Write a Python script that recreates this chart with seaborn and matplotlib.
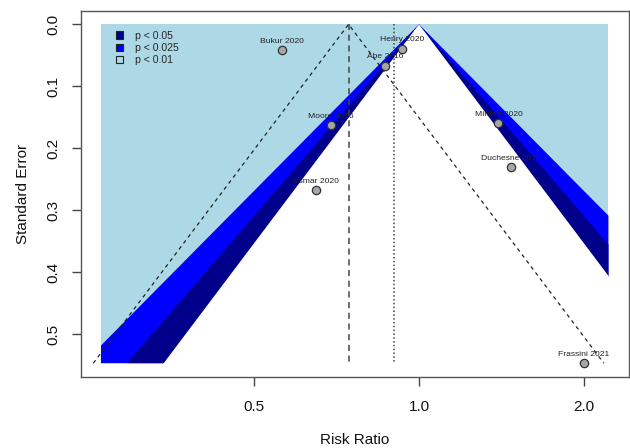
import numpy as np
import pandas as pd
import matplotlib
matplotlib.use("Agg")
import matplotlib.pyplot as plt
import seaborn as sns

# study data (risk ratio and standard error of log RR)
studies = ["Bukur 2020", "Henry 2020", "Abe 2016", "Moore 2016",
           "Mirdad 2020", "Duchesne 2019", "Asmar 2020", "Frassini 2021"]
rr = [0.562, 0.930, 0.868, 0.691, 1.396, 1.470, 0.650, 2.00]
se = [0.042, 0.040, 0.067, 0.163, 0.160, 0.231, 0.268, 0.547]

pooled_rr = 0.744      # dashed reference line / funnel centre
other_rr = 0.900       # dotted reference line
fill_range = [0.263, 2.216]   # x extent of shaded area
z_levels = [2.576, 2.241, 1.960]
level_colors = ["#0000FF", "#00008B", "white"]
legend_labels = ["p < 0.05", "p < 0.025", "p < 0.01"]
legend_colors = ["#00008B", "#0000FF", "#ADD8E6"]
x_ticks = [0.5, 1.0, 2.0]
x_tick_labels = ["0.5", "1.0", "2.0"]
y_ticks = [0.0, 0.1, 0.2, 0.3, 0.4, 0.5]

df = pd.DataFrame({"study": studies, "rr": rr, "se": se})

sns.set_style("white")
plt.rcParams["font.family"] = ["Liberation Sans", "DejaVu Sans"]

fig = plt.figure(figsize=(6.3, 4.48), dpi=100)
ax = fig.add_axes([0.128, 0.159, 0.870, 0.817])
ax.set_xscale("log")

se_max = max(se)
lo, hi = fill_range

# -------------------------------------------------
# contour shading
# -------------------------------------------------
ax.fill_between([lo, hi], 0, se_max, facecolor="#ADD8E6", edgecolor="none",
                lw=0, zorder=1)
for z, col in zip(z_levels, level_colors):
    if col == "white":
        # let the white inner region run past the shaded box (no seam)
        se_grid = np.linspace(0, se_max * 1.03, 400)
        right = hi * 1.2
    else:
        se_grid = np.linspace(0, se_max, 400)
        right = hi
    xl = np.clip(np.exp(-z * se_grid), lo, right)
    xr = np.clip(np.exp(z * se_grid), lo, right)
    ax.fill_betweenx(se_grid, xl, xr, facecolor=col, edgecolor="none",
                     lw=0, zorder=2)

# -------------------------------------------------
# funnel + reference lines
# -------------------------------------------------
c = np.log(pooled_rr)
ax.plot([np.exp(c - 1.96 * se_max), pooled_rr, np.exp(c + 1.96 * se_max)],
        [se_max, 0, se_max], color="#222222", lw=0.9, dashes=(3, 3), zorder=3)
ax.plot([pooled_rr, pooled_rr], [0, se_max], color="#444444", lw=1.1,
        dashes=(4, 3), zorder=3)
ax.plot([other_rr, other_rr], [0, se_max], color="#444444", lw=1.1,
        dashes=(1, 1.5), zorder=3)

# -------------------------------------------------
# studies
# -------------------------------------------------
sns.scatterplot(data=df, x="rr", y="se", ax=ax, s=36, color="#A6A6A6",
                edgecolor="#333333", linewidth=0.9, zorder=4, legend=False)
for _, row in df.iterrows():
    ax.annotate(row["study"], (row["rr"], row["se"]), xytext=(0, 5.5),
                textcoords="offset points", ha="center", va="baseline",
                fontsize=6.1, color="#222222", zorder=5)

# -------------------------------------------------
# legend
# -------------------------------------------------
handles = [plt.Rectangle((0, 0), 1, 1, facecolor=fc, edgecolor="#222222", lw=0.8)
           for fc in legend_colors]
ax.legend(handles, legend_labels, loc="upper left", bbox_to_anchor=(0.064, 0.945),
          frameon=False, fontsize=7.6, handlelength=0.7, handleheight=0.7,
          handletextpad=1.1, labelspacing=0.2, borderaxespad=0, borderpad=0)

# -------------------------------------------------
# axes
# -------------------------------------------------
pad_x = 0.04 * (np.log(hi) - np.log(lo))
ax.set_xlim(np.exp(np.log(lo) - pad_x), np.exp(np.log(hi) + pad_x))
ax.set_ylim(se_max * 1.04, -0.04 * se_max)
ax.set_xticks(x_ticks)
ax.set_xticklabels(x_tick_labels)
ax.xaxis.set_minor_locator(matplotlib.ticker.NullLocator())
ax.set_yticks(y_ticks)
ax.set_yticklabels([f"{v:.1f}" for v in y_ticks], rotation=90, va="center")
ax.tick_params(axis="both", direction="out", length=6.5, width=1,
               color="#444444", labelsize=11, labelcolor="#111111",
               bottom=True, left=True)
ax.tick_params(axis="x", pad=10)
ax.tick_params(axis="y", pad=8)
for sp in ax.spines.values():
    sp.set_color("#555555")
    sp.set_linewidth(1)
    sp.set_zorder(6)

ax.set_xlabel("Risk Ratio", fontsize=11, color="#111111", va="center")
ax.set_ylabel("Standard Error", fontsize=11, color="#111111", va="center")
ax.xaxis.set_label_coords(0.5, -0.172)
ax.yaxis.set_label_coords(-0.106, 0.5)

fig.savefig("out.png", dpi=100)
